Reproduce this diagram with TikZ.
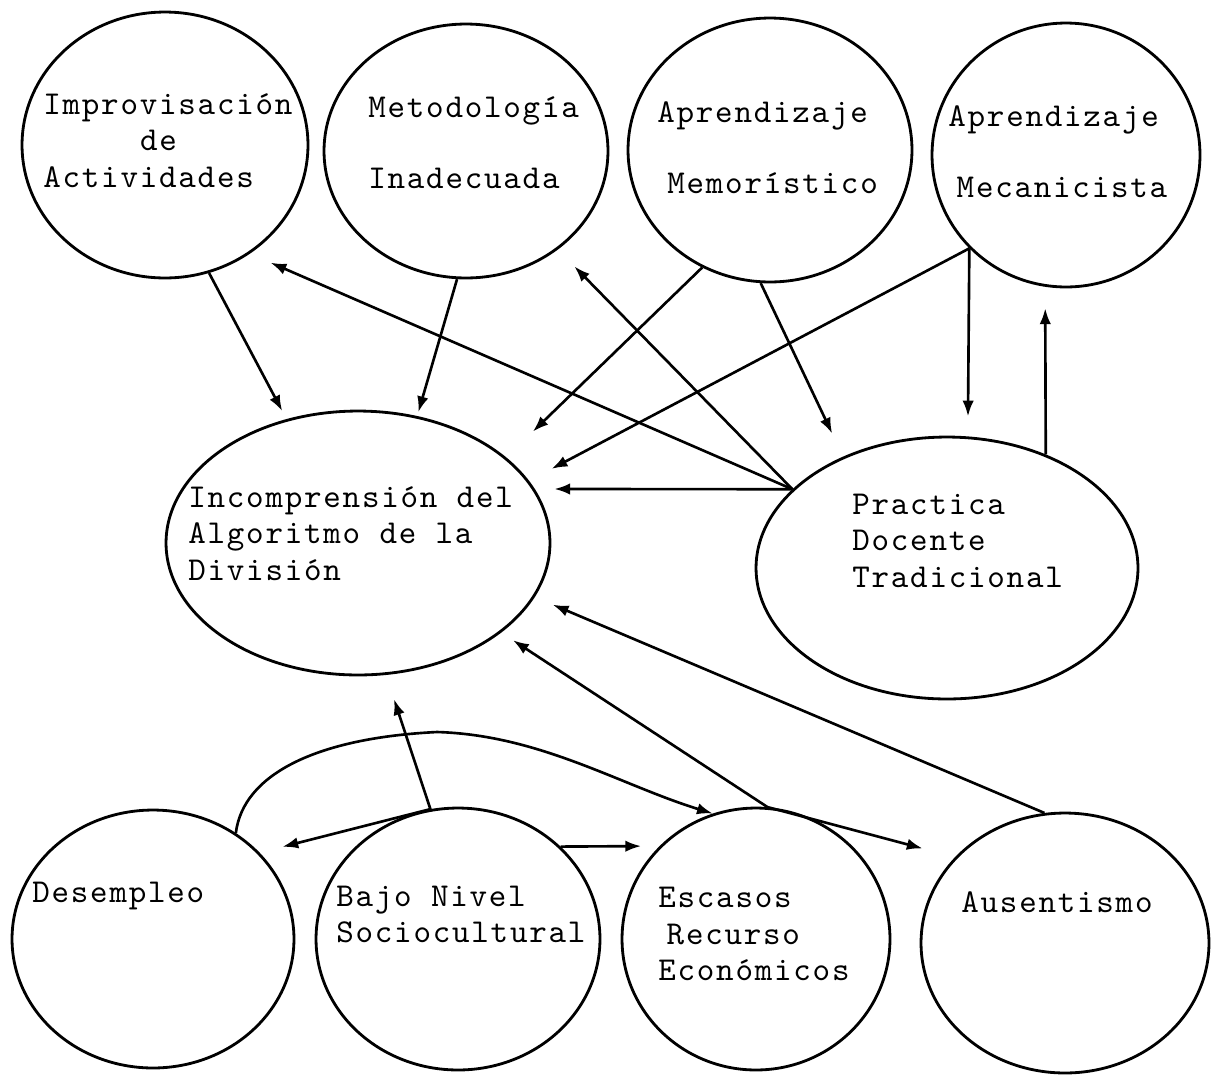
\documentclass[tikz,border=0pt]{standalone}
\usepackage{fontspec}
\usetikzlibrary{arrows.meta,shapes.geometric}
\newfontfamily\tipo[LetterSpace=5.3]{lmmono10-regular.otf}
\tikzset{causa/.style = {shape=ellipse,draw,line width=1.6pt,inner sep=0pt}}
\tikzset{flecha/.style = {->,> = {Latex[length=9pt,width=6.5pt]},line width=1.5pt}}
\tikzset{texto/.style = {anchor=base west,align=left,inner sep=0pt,font=\tipo\fontsize{19}{20.5}\selectfont}}

\begin{document}
\begin{tikzpicture}[x=0.02cm,y=-0.02cm]
\useasboundingbox (0,0) rectangle (1223,1076);
% causas de arriba
\node[causa,minimum width=5.72cm,minimum height=5.32cm] (impro) at (165,145) {};
\node[causa,minimum width=5.68cm,minimum height=5.08cm] (metod) at (466,151) {};
\node[causa,minimum width=5.68cm,minimum height=5.28cm] (memo) at (770,150) {};
\node[causa,minimum width=5.36cm,minimum height=5.28cm] (meca) at (1066,155) {};
% problema y practica docente
\node[causa,minimum width=7.68cm,minimum height=5.28cm] (incomp) at (358,543) {};
\node[causa,minimum width=7.64cm,minimum height=5.24cm] (pract) at (947,568) {};
% causas de abajo
\node[causa,minimum width=5.64cm,minimum height=5.16cm] (desemp) at (153,939) {};
\node[causa,minimum width=5.68cm,minimum height=5.24cm] (bajo) at (458,939) {};
\node[causa,minimum width=5.36cm,minimum height=5.24cm] (escasos) at (756,939) {};
\node[causa,minimum width=5.76cm,minimum height=5.20cm] (ausent) at (1065,943) {};

% textos (base = ultima linea)
\node[texto] (impro-t) at (43,187) {Improvisación\\\hspace*{2.9em}de\\Actividades};
\node[texto] (metod-t) at (368,188) {Metodología\\[19.5pt]Inadecuada};
\node[texto] (memo-t) at (657,193) {Aprendizaje\\[19.5pt]\hspace*{0.3em}Memorístico};
\node[texto] (meca-t) at (948,197) {Aprendizaje\\[19.5pt]\hspace*{0.25em}Mecanicista};
\node[texto] (incomp-t) at (188,580) {Incomprensión del\\Algoritmo de la\\División};
\node[texto] (pract-t) at (852,587) {Practica\\Docente\\Tradicional};
\node[texto] (desemp-t) at (32,902) {Desempleo};
\node[texto] (bajo-t) at (336,942) {Bajo Nivel\\Sociocultural};
\node[texto] (escasos-t) at (658,980) {Escasos\\\hspace*{0.25em}Recurso\\Económicos};
\node[texto] (ausent-t) at (961,912) {Ausentismo};

\draw[flecha,shorten >=0.18cm] (impro.-71) to (incomp.120);
\draw[flecha,shorten >=0.08cm] (metod.-94) to (incomp.65);
\draw[flecha,shorten >=0.45cm] (pract.153) to (impro.-52);
\draw[flecha,shorten >=0.47cm] (pract.153) to (metod.-47);
\draw[flecha,shorten >=0.74cm] (memo.-120) to (incomp.30);
\draw[flecha,shorten >=0.51cm] (memo.-94) to (pract.133);
\draw[flecha,shorten >=0.51cm] (meca.-136) to (incomp.20);
\draw[flecha,shorten >=0.40cm] (meca.-136) to (pract.81);
\draw[flecha,shorten >=0.43cm] (pract.49) to (meca.-99);
\draw[flecha,shorten >=0.39cm] (pract.153) to (incomp.17);
\draw[flecha,shorten >=0.39cm] (ausent.99) to (incomp.-17);
\draw[flecha,shorten >=0.28cm] (escasos.85) to (incomp.-32);
\draw[flecha,shorten >=0.51cm] (bajo.102) to (incomp.-78);
\draw[flecha,shorten >=0.47cm] (bajo.102) to (desemp.39);
\draw[flecha,shorten >=0.37cm] (bajo.42) to (escasos.136);
\draw[flecha,shorten >=0.67cm] (escasos.85) to (ausent.142);
\draw[flecha] (desemp.52) .. controls (243,775) and (315,738) .. (437,732)
  .. controls (540,735) and (620,785) .. (escasos.109);
\end{tikzpicture}
\end{document}
